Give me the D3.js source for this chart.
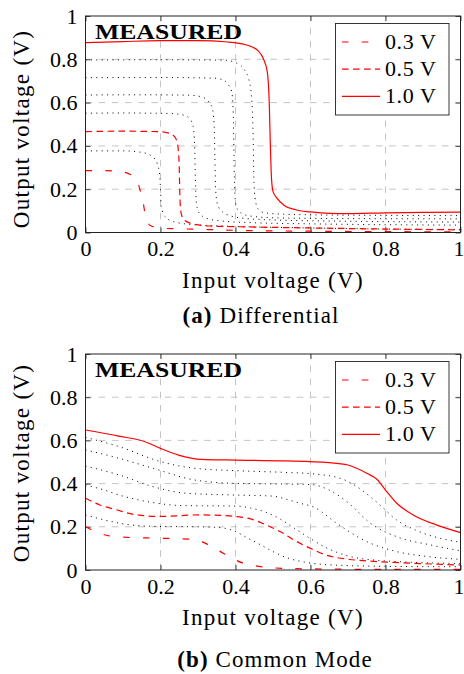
<!DOCTYPE html>
<html>
<head>
<meta charset="utf-8">
<script src="https://cdn.jsdelivr.net/npm/d3@7"></script>
<style>
  html, body { margin: 0; padding: 0; background: #fff; }
  svg { display: block; }
  text { font-family: "Liberation Serif", "Times New Roman", serif; fill: #000; }
</style>
</head>
<body>
<svg id="chart" width="464" height="674"></svg>
<script>
// supply voltages of the sweeps (V)
const supplies = [0.3, 0.4, 0.5, 0.6, 0.7, 0.8, 0.9, 1.0];
const legendSupplies = [0.3, 0.5, 1.0];
const legendLabels = ["0.3 V", "0.5 V", "1.0 V"];
const tickValues = [0, 0.2, 0.4, 0.6, 0.8, 1];
const gridValues = [0.2, 0.4, 0.6, 0.8];

// (a) differential: [input V, output V]
const diff03 = [[0,0.286],[0.05,0.286],[0.09,0.282],[0.115,0.272],[0.13,0.255],[0.14,0.228],[0.148,0.18],[0.154,0.136],[0.159,0.085],[0.165,0.05],[0.175,0.03],[0.2,0.02],[0.3,0.015],[0.4,0.01],[0.6,0.006],[0.8,0.004],[1,0.003]];
const diff04 = [[0,0.377],[0.1,0.377],[0.15,0.37],[0.178,0.351],[0.192,0.315],[0.198,0.26],[0.2,0.2],[0.202,0.12],[0.212,0.074],[0.239,0.048],[0.29,0.036],[0.4,0.028],[0.6,0.021],[0.8,0.016],[1,0.014]];
const diff05 = [[0,0.466],[0.1,0.468],[0.19,0.466],[0.215,0.462],[0.232,0.452],[0.242,0.43],[0.247,0.39],[0.25,0.3],[0.252,0.15],[0.255,0.09],[0.262,0.06],[0.28,0.043],[0.33,0.03],[0.4,0.027],[0.6,0.021],[0.8,0.016],[1,0.012]];
const diff06 = [[0,0.551],[0.1,0.552],[0.22,0.55],[0.26,0.543],[0.278,0.525],[0.287,0.49],[0.291,0.4],[0.293,0.25],[0.295,0.15],[0.3,0.1],[0.312,0.075],[0.33,0.062],[0.37,0.052],[0.45,0.045],[0.6,0.04],[0.8,0.036],[1,0.034]];
const diff07 = [[0,0.635],[0.15,0.636],[0.28,0.634],[0.31,0.626],[0.327,0.607],[0.338,0.575],[0.343,0.5],[0.345,0.35],[0.347,0.2],[0.352,0.13],[0.365,0.095],[0.385,0.078],[0.42,0.066],[0.5,0.058],[0.7,0.052],[1,0.048]];
const diff08 = [[0,0.715],[0.2,0.716],[0.34,0.713],[0.365,0.706],[0.38,0.685],[0.39,0.65],[0.394,0.55],[0.396,0.35],[0.398,0.18],[0.403,0.115],[0.415,0.09],[0.44,0.076],[0.5,0.068],[0.7,0.064],[1,0.063]];
const diff09 = [[0,0.797],[0.2,0.798],[0.37,0.796],[0.4,0.785],[0.42,0.76],[0.435,0.71],[0.443,0.62],[0.447,0.45],[0.449,0.25],[0.452,0.16],[0.46,0.11],[0.475,0.092],[0.52,0.085],[0.7,0.08],[1,0.078]];
const diff10 = [[0,0.877],[0.1,0.882],[0.2,0.886],[0.3,0.886],[0.38,0.88],[0.43,0.866],[0.46,0.84],[0.475,0.8],[0.485,0.74],[0.49,0.6],[0.493,0.4],[0.496,0.25],[0.5,0.19],[0.51,0.16],[0.53,0.125],[0.56,0.105],[0.6,0.095],[0.65,0.088],[0.7,0.087],[0.8,0.091],[0.9,0.093],[1,0.094]];

// (b) common mode: [input V, output V]
const cm03 = [[0,0.2],[0.05,0.163],[0.1,0.152],[0.2,0.147],[0.29,0.142],[0.33,0.115],[0.36,0.085],[0.39,0.055],[0.42,0.032],[0.45,0.02],[0.5,0.01],[0.6,0.005],[0.8,0.003],[1,0.003]];
const cm04 = [[0,0.255],[0.05,0.232],[0.1,0.214],[0.18,0.202],[0.3,0.2],[0.36,0.196],[0.4,0.178],[0.43,0.15],[0.46,0.123],[0.5,0.085],[0.54,0.055],[0.58,0.038],[0.65,0.024],[0.8,0.017],[1,0.015]];
const cm05 = [[0,0.332],[0.04,0.3],[0.08,0.28],[0.13,0.257],[0.2,0.248],[0.3,0.255],[0.36,0.253],[0.4,0.248],[0.44,0.237],[0.48,0.21],[0.52,0.177],[0.56,0.135],[0.6,0.1],[0.64,0.07],[0.7,0.05],[0.75,0.042],[0.85,0.033],[1,0.023]];
const cm06 = [[0,0.394],[0.05,0.37],[0.09,0.347],[0.18,0.312],[0.26,0.298],[0.4,0.296],[0.44,0.287],[0.48,0.268],[0.52,0.235],[0.56,0.19],[0.6,0.145],[0.64,0.105],[0.7,0.065],[0.8,0.042],[1,0.03]];
const cm07 = [[0,0.481],[0.09,0.44],[0.18,0.386],[0.27,0.355],[0.4,0.347],[0.5,0.342],[0.53,0.33],[0.57,0.31],[0.61,0.29],[0.67,0.216],[0.74,0.14],[0.83,0.085],[0.9,0.065],[1,0.049]];
const cm08 = [[0,0.556],[0.09,0.517],[0.18,0.471],[0.29,0.417],[0.4,0.401],[0.53,0.398],[0.6,0.396],[0.65,0.37],[0.7,0.312],[0.76,0.216],[0.83,0.154],[0.92,0.116],[1,0.089]];
const cm09 = [[0,0.614],[0.09,0.571],[0.2,0.502],[0.29,0.471],[0.4,0.46],[0.53,0.452],[0.6,0.446],[0.68,0.424],[0.72,0.39],[0.78,0.309],[0.83,0.231],[0.88,0.185],[1,0.128]];
const cm10 = [[0,0.648],[0.088,0.62],[0.159,0.594],[0.2,0.563],[0.248,0.532],[0.309,0.512],[0.4,0.509],[0.53,0.505],[0.65,0.497],[0.7,0.486],[0.75,0.448],[0.777,0.42],[0.8,0.37],[0.83,0.309],[0.874,0.255],[0.937,0.208],[1,0.173]];

const diffCurves = [diff03, diff04, diff05, diff06, diff07, diff08, diff09, diff10];
const cmCurves = [cm03, cm04, cm05, cm06, cm07, cm08, cm09, cm10];

// line style per supply
function styleFor(v) {
  if (v === 0.3) return { color: "#ff0000", dash: "6.6,13.2", width: 1.2 };
  if (v === 0.5) return { color: "#ff0000", dash: "6.6,4.4", width: 1.2 };
  if (v === 1.0) return { color: "#ff0000", dash: null, width: 1.2 };
  return { color: "#000", dash: "1,4.4", width: 1 };
}

const svg = d3.select("#chart");
const fmt = d3.format("~g");

function drawPanel(cfg) {
  const x = d3.scaleLinear().domain([0, 1]).range([85.5, 460.5]);
  const y = d3.scaleLinear().domain([0, 1]).range([cfg.bottom, cfg.top]);
  const g = svg.append("g");

  // grid
  const grid = g.append("g").attr("stroke", "#bdbdbd").attr("stroke-width", 0.9).attr("stroke-dasharray", "6.6,6.6");
  grid.selectAll(".gx").data(gridValues).join("line")
    .attr("x1", d => x(d)).attr("x2", d => x(d))
    .attr("y1", cfg.bottom).attr("y2", cfg.top);
  grid.selectAll(".gy").data(gridValues).join("line")
    .attr("y1", d => y(d)).attr("y2", d => y(d))
    .attr("x1", x(0)).attr("x2", x(1));

  // axes, ticks pointing inwards on all four sides
  const axes = [
    { ax: d3.axisBottom(x), t: `translate(0,${cfg.bottom})`, labels: true, bottom: true },
    { ax: d3.axisTop(x), t: `translate(0,${cfg.top})`, labels: false },
    { ax: d3.axisLeft(y), t: `translate(${x(0)},0)`, labels: true },
    { ax: d3.axisRight(y), t: `translate(${x(1)},0)`, labels: false }
  ];
  axes.forEach(a => {
    const ag = g.append("g").attr("transform", a.t)
      .call(a.ax.tickValues(tickValues).tickSize(-5).tickPadding(8).tickFormat(a.labels ? fmt : ""));
    ag.attr("font-family", null).attr("font-size", null);
    ag.select(".domain").remove();
    ag.selectAll(".tick line").attr("stroke", "#333").attr("stroke-width", 0.9);
    ag.selectAll(".tick text").style("font-size", "22px");
    if (a.bottom) {
      // keep the last label inside the page edge
      ag.selectAll(".tick text").filter(d => d === 1)
        .attr("text-anchor", "end").attr("x", 3.5);
    }
  });

  // series: dotted first, red on top
  const line = d3.line().x(d => x(d[0])).y(d => y(d[1])).curve(d3.curveMonotoneX);
  const isDotted = i => styleFor(supplies[i]).color === "#000";
  const order = supplies.map((v, i) => i).sort((a, b) => (isDotted(a) ? 0 : 1) - (isDotted(b) ? 0 : 1));
  g.append("g").selectAll("path").data(order).join("path")
    .attr("d", i => line(cfg.curves[i]))
    .attr("fill", "none")
    .attr("stroke", i => styleFor(supplies[i]).color)
    .attr("stroke-width", i => styleFor(supplies[i]).width)
    .attr("stroke-dasharray", i => styleFor(supplies[i]).dash);

  // frame
  g.append("rect")
    .attr("x", x(0)).attr("y", cfg.top)
    .attr("width", x(1) - x(0)).attr("height", cfg.bottom - cfg.top)
    .attr("fill", "none").attr("stroke", "#222").attr("stroke-width", 1);

  // tag
  g.append("text")
    .attr("x", 95).attr("y", cfg.top + 23)
    .attr("font-weight", "bold").style("font-size", "21px")
    .attr("textLength", 147).attr("lengthAdjust", "spacingAndGlyphs")
    .text("MEASURED");

  // legend
  const lg = g.append("g").attr("transform", `translate(335.5,${cfg.top + 7.5})`);
  lg.append("rect").attr("width", 113.5).attr("height", 91.5)
    .attr("fill", "#fff").attr("stroke", "#222").attr("stroke-width", 0.9);
  const rows = lg.selectAll(".row").data(legendSupplies).join("g")
    .attr("transform", (d, i) => `translate(0,${18.5 + i * 27.2})`);
  rows.append("line").attr("x1", 6.5).attr("x2", 44.5)
    .attr("stroke", d => styleFor(d).color)
    .attr("stroke-width", d => styleFor(d).width)
    .attr("stroke-dasharray", d => styleFor(d).dash);
  rows.append("text").attr("x", 49.5).attr("dy", "0.32em")
    .style("font-size", "22px").style("letter-spacing", "0.6px")
    .text((d, i) => legendLabels[i]);

  // axis titles
  svg.append("text")
    .attr("x", 273).attr("y", cfg.bottom + 55)
    .attr("text-anchor", "middle").style("font-size", "23px").style("letter-spacing", "1.3px")
    .text("Input voltage (V)");
  svg.append("text")
    .attr("transform", `translate(29,${cfg.yTitleMid}) rotate(-90)`)
    .attr("text-anchor", "middle").style("font-size", "23px").style("letter-spacing", "1.3px")
    .text("Output voltage (V)");

  // caption
  const cap = svg.append("text")
    .attr("x", cfg.captionX).attr("y", cfg.captionY)
    .attr("text-anchor", "middle").style("font-size", "23px").style("letter-spacing", "1.1px");
  cap.append("tspan").attr("font-weight", "bold").text(cfg.tag);
  cap.append("tspan").text(" " + cfg.caption);
}

drawPanel({ top: 16, bottom: 232.5, curves: diffCurves, yTitleMid: 129, captionX: 261, captionY: 323, tag: "(a)", caption: "Differential" });
drawPanel({ top: 354, bottom: 570, curves: cmCurves, yTitleMid: 463, captionX: 275, captionY: 667, tag: "(b)", caption: "Common Mode" });
</script>
</body>
</html>
